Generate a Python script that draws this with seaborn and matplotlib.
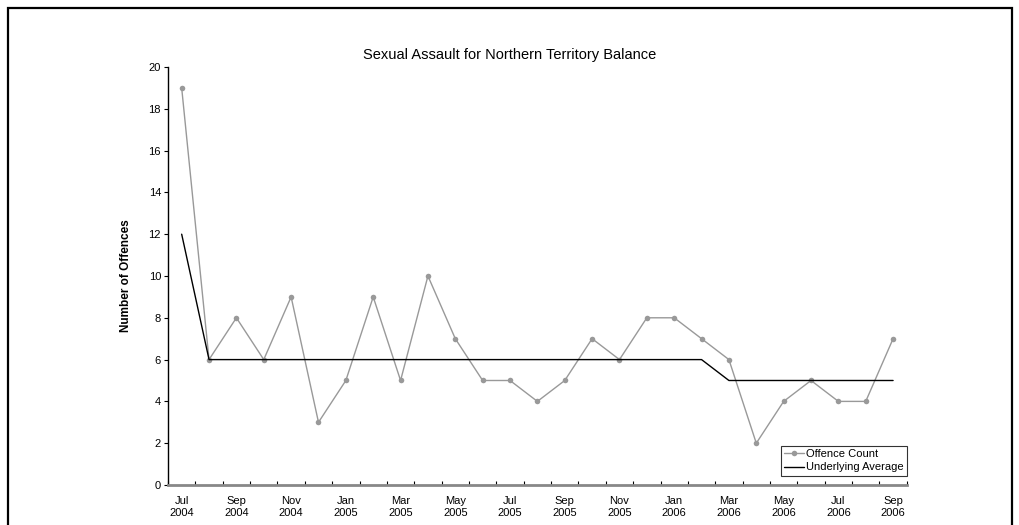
import pandas as pd
import numpy as np
import matplotlib
matplotlib.use("Agg")
import matplotlib.pyplot as plt
import seaborn as sns
from matplotlib.patches import Rectangle

# Monthly values, Jul 2004 - Sep 2006
months = ["Jul 2004", "Aug 2004", "Sep 2004", "Oct 2004", "Nov 2004", "Dec 2004",
          "Jan 2005", "Feb 2005", "Mar 2005", "Apr 2005", "May 2005", "Jun 2005",
          "Jul 2005", "Aug 2005", "Sep 2005", "Oct 2005", "Nov 2005", "Dec 2005",
          "Jan 2006", "Feb 2006", "Mar 2006", "Apr 2006", "May 2006", "Jun 2006",
          "Jul 2006", "Aug 2006", "Sep 2006"]
offence_count = [19, 6, 8, 6, 9, 3, 5, 9, 5, 10, 7, 5, 5, 4, 5, 7, 6, 8, 8, 7,
                 6, 2, 4, 5, 4, 4, 7]
underlying_avg = [12, 6, 6, 6, 6, 6, 6, 6, 6, 6, 6, 6, 6, 6, 6, 6, 6, 6, 6, 6,
                  5, 5, 5, 5, 5, 5, 5]

df = pd.DataFrame({
    "idx": list(range(len(months))) * 2,
    "value": offence_count + underlying_avg,
    "series": ["Offence Count"] * len(months) + ["Underlying Average"] * len(months),
})

sns.set_theme(style="white")
plt.rcParams['font.family'] = ['Liberation Sans', 'DejaVu Sans']
plt.rcParams['text.color'] = 'black'
plt.rcParams['axes.labelcolor'] = 'black'
plt.rcParams['xtick.color'] = 'black'
plt.rcParams['ytick.color'] = 'black'

fig = plt.figure(figsize=(10.2, 5.25), dpi=100)
ax = fig.add_axes([0.1647, 0.0762, 0.889 - 0.1647, 0.8724 - 0.0762])

sns.lineplot(data=df[df.series == "Offence Count"], x="idx", y="value",
             color="#999999", marker="o", markersize=4, markeredgewidth=0,
             linewidth=1, label="Offence Count", ax=ax)
sns.lineplot(data=df[df.series == "Underlying Average"], x="idx", y="value",
             color="black", linewidth=1, label="Underlying Average", ax=ax)

ax.set_xlim(-0.5, len(months) - 0.5)
ax.set_ylim(0, 20)
ax.set_yticks(np.arange(0, 21, 2))
ax.tick_params(axis="y", labelsize=8, length=3, width=0.8, direction="out", left=True, pad=2)

# month boundaries get tick marks, every second month gets a label
ax.set_xticks(np.arange(-0.5, len(months), 1.0), minor=True)
ax.set_xticks(range(0, len(months), 2))
ax.set_xticklabels([m.replace(" ", "\n") for m in months[::2]], fontsize=8)
ax.tick_params(axis="x", which="major", length=0, pad=8)
ax.tick_params(axis="x", which="minor", length=3, width=0.8, direction="in", bottom=True)

for s in ["top", "right"]:
    ax.spines[s].set_visible(False)
ax.spines["left"].set_color("black")
ax.spines["left"].set_linewidth(1)
ax.spines["bottom"].set_color("#888888")
ax.spines["bottom"].set_linewidth(2)

ax.set_xlabel("")
ax.set_ylabel("Number of Offences", fontsize=8.5, fontweight="bold", labelpad=12)
fig.text(0.5, 0.888, "Sexual Assault for Northern Territory Balance",
         ha="center", fontsize=10.5)

leg = ax.legend(loc="lower right", bbox_to_anchor=(1.0, 0.022), borderaxespad=0,
                fontsize=8, frameon=True, fancybox=False, edgecolor="black",
                borderpad=0.3, labelspacing=0.3, handlelength=1.8, handletextpad=0.15)
leg.get_frame().set_linewidth(0.8)

# outer border, open at the bottom edge
fig.patches.append(Rectangle((0.008, -0.05), 0.984, 1.035, transform=fig.transFigure,
                             fill=False, edgecolor="black", linewidth=1.6))

fig.savefig("out.png", dpi=100)
